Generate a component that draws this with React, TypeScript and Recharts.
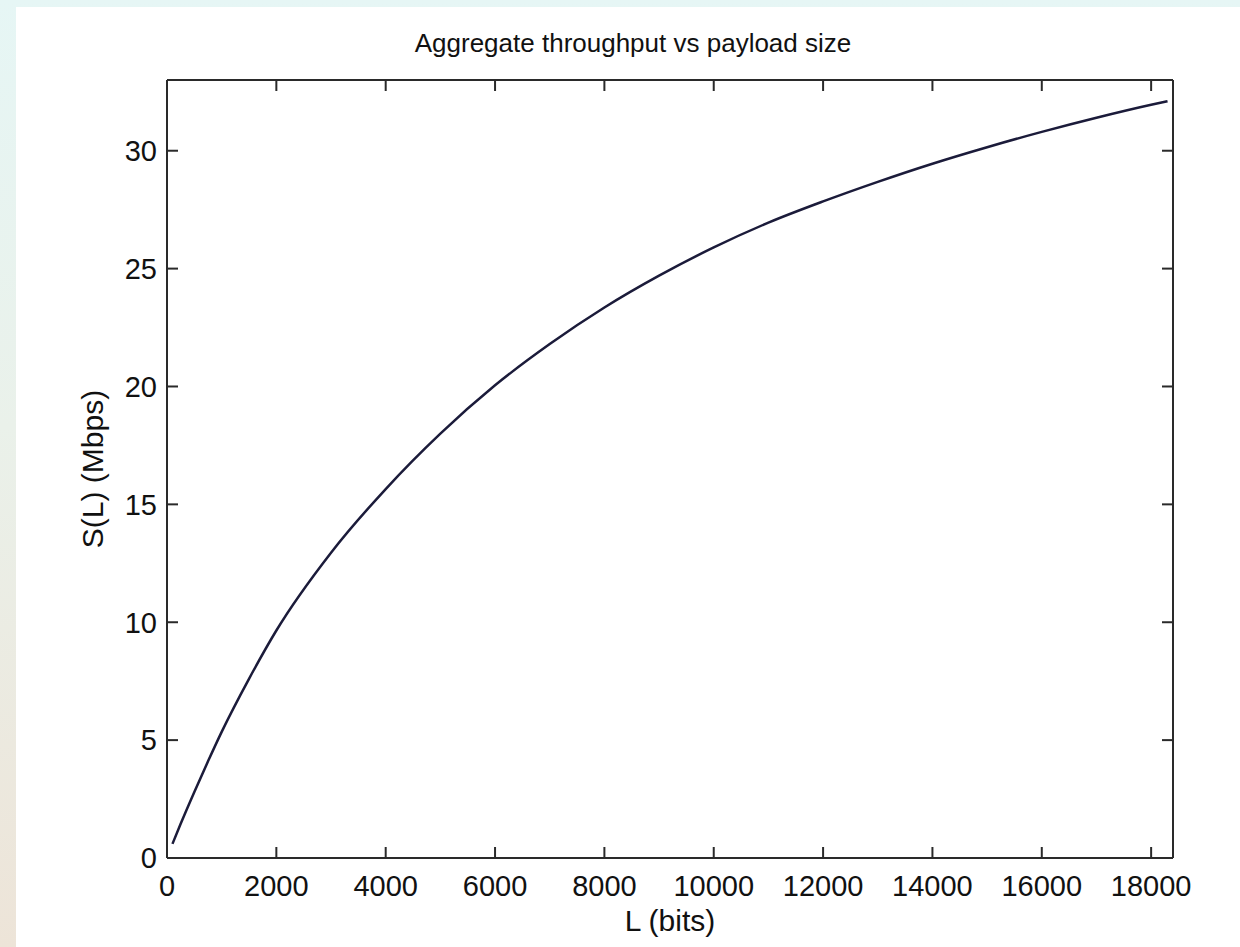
import { LineChart, Line, XAxis, YAxis } from 'recharts'

// values
const payloadBits = [100, 250, 500, 750, 1000, 1500, 2000, 3000, 4000, 5000, 6000, 7000, 8000, 9000, 10000, 11000, 12000, 13000, 14000, 15000, 16000, 17000, 18000, 18300]
const throughputMbps = [0.6, 1.45, 2.8, 4.1, 5.35, 7.6, 9.65, 12.95, 15.65, 18.0, 20.05, 21.8, 23.35, 24.7, 25.9, 26.95, 27.85, 28.68, 29.45, 30.15, 30.8, 31.4, 31.95, 32.1]
const xTicks = [0, 2000, 4000, 6000, 8000, 10000, 12000, 14000, 16000, 18000]
const yTicks = [0, 5, 10, 15, 20, 25, 30]

const data = payloadBits.map((L, i) => ({ L, S: throughputMbps[i] }))

const FONT = '"Liberation Sans", Arial, Helvetica, sans-serif'
const AXIS = '#2a2a2a'
const tickText = { fontSize: 29, fill: '#111', fontFamily: FONT }
const noLabel = () => ''
const X_DOMAIN: [number, number] = [0, 18400]
const Y_DOMAIN: [number, number] = [0, 33]

export default function App() {
  return (
    <div
      style={{
        position: 'absolute',
        left: 0,
        top: 0,
        width: 1240,
        height: 947,
        background: 'linear-gradient(to bottom, #e6f6f5 0%, #eaf1ea 45%, #ede4d8 100%)',
        fontFamily: FONT,
      }}
    >
      <div style={{ position: 'absolute', left: 16, top: 7, width: 1224, height: 940, background: '#fff' }} />
      <div
        style={{
          position: 'absolute',
          left: 333,
          top: 30,
          width: 600,
          height: 26,
          lineHeight: '26px',
          fontSize: 26,
          textAlign: 'center',
          color: '#111',
        }}
      >
        Aggregate throughput vs payload size
      </div>
      <div
        style={{
          position: 'absolute',
          left: -57,
          top: 454,
          width: 300,
          height: 30,
          lineHeight: '30px',
          fontSize: 30,
          textAlign: 'center',
          color: '#111',
          transform: 'rotate(-90deg)',
        }}
      >
        S(L) (Mbps)
      </div>
      <div style={{ position: 'absolute', left: 0, top: 0 }}>
        <LineChart width={1240} height={947} data={data} margin={{ top: 80, right: 67, bottom: 88, left: 166 }}>
          {/* labelled axes */}
          <XAxis
            xAxisId="b"
            dataKey="L"
            type="number"
            domain={X_DOMAIN}
            ticks={xTicks}
            height={1}
            tickLine={false}
            tickSize={0}
            tickMargin={17}
            axisLine={{ stroke: AXIS, strokeWidth: 2 }}
            tick={tickText}
            label={{ value: 'L (bits)', position: 'bottom', offset: 51, fontSize: 30, fill: '#111', fontFamily: FONT }}
          />
          <YAxis
            yAxisId="l"
            type="number"
            domain={Y_DOMAIN}
            ticks={yTicks}
            width={1}
            tickLine={false}
            tickSize={0}
            tickMargin={10}
            axisLine={{ stroke: AXIS, strokeWidth: 2 }}
            tick={tickText}
          />
          {/* inward tick marks on all four sides */}
          <XAxis
            xAxisId="bt"
            dataKey="L"
            type="number"
            orientation="bottom"
            mirror
            domain={X_DOMAIN}
            ticks={xTicks}
            height={1}
            tickSize={11}
            tickFormatter={noLabel}
            tickLine={{ stroke: AXIS, strokeWidth: 2 }}
            axisLine={false}
          />
          <XAxis
            xAxisId="t"
            dataKey="L"
            type="number"
            orientation="top"
            mirror
            domain={X_DOMAIN}
            ticks={xTicks}
            height={1}
            tickSize={11}
            tickFormatter={noLabel}
            tickLine={{ stroke: AXIS, strokeWidth: 2 }}
            axisLine={{ stroke: AXIS, strokeWidth: 2 }}
          />
          <YAxis
            yAxisId="lt"
            type="number"
            orientation="left"
            mirror
            domain={Y_DOMAIN}
            ticks={yTicks}
            width={1}
            tickSize={11}
            tickFormatter={noLabel}
            tickLine={{ stroke: AXIS, strokeWidth: 2 }}
            axisLine={false}
          />
          <YAxis
            yAxisId="r"
            type="number"
            orientation="right"
            mirror
            domain={Y_DOMAIN}
            ticks={yTicks}
            width={1}
            tickSize={11}
            tickFormatter={noLabel}
            tickLine={{ stroke: AXIS, strokeWidth: 2 }}
            axisLine={{ stroke: AXIS, strokeWidth: 2 }}
          />
          {/* hidden copies so the tick-only axes get a scale */}
          <Line xAxisId="bt" yAxisId="lt" dataKey="S" stroke="none" dot={false} legendType="none" isAnimationActive={false} />
          <Line xAxisId="t" yAxisId="r" dataKey="S" stroke="none" dot={false} legendType="none" isAnimationActive={false} />
          <Line
            xAxisId="b"
            yAxisId="l"
            type="monotone"
            dataKey="S"
            stroke="#1b1b3a"
            strokeWidth={2.5}
            dot={false}
            isAnimationActive={false}
          />
        </LineChart>
      </div>
    </div>
  )
}
